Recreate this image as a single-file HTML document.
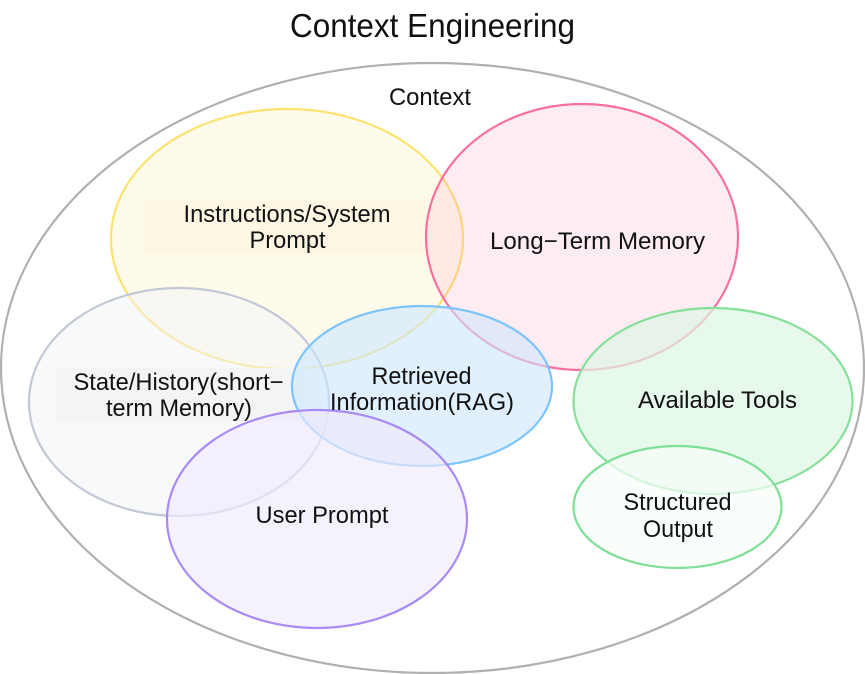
<!DOCTYPE html>
<html>
<head>
<meta charset="utf-8">
<style>
html,body{margin:0;padding:0;background:#fff}
svg{display:block}
text{font-family:"Liberation Sans",sans-serif;font-size:24px;fill:#111;text-anchor:middle}
ellipse{stroke-width:2.2}
</style>
</head>
<body>
<svg width="865" height="674" viewBox="0 0 865 674" xmlns="http://www.w3.org/2000/svg">
<rect width="865" height="674" fill="#fff"/>
<ellipse cx="432.500" cy="368" rx="431.500" ry="305" fill="#fff" stroke="#b0b0b0"/>
<ellipse cx="287" cy="239" rx="176" ry="130" fill="#fffbeb" stroke="#fde26e"/>
<rect x="144" y="201" width="282" height="52" fill="#fdf6e3"/>
<ellipse cx="582" cy="237" rx="156" ry="133" fill="#f9a8c8" fill-opacity=".22" stroke="#fb6f9f"/>
<ellipse cx="179" cy="402" rx="150" ry="114" fill="#f1f3f7" fill-opacity=".5" stroke="#c3c8d6"/>
<rect x="56" y="368" width="250" height="53" fill="#f3f4f6"/>
<ellipse cx="422" cy="386" rx="130" ry="80" fill="#cbe6ff" fill-opacity=".6" stroke="#7cc4fa"/>
<ellipse cx="317" cy="519" rx="150" ry="109" fill="#f0eafc" fill-opacity=".65" stroke="#a98bf5"/>
<ellipse cx="713" cy="401" rx="139.500" ry="93" fill="#ddf6e2" fill-opacity=".7" stroke="#86e09b"/>
<ellipse cx="677.500" cy="507" rx="104" ry="61" fill="#f7fdf8" fill-opacity=".7" stroke="#7fdf97"/>
<text x="432.500" y="37" style="font-size:33px" textLength="285" lengthAdjust="spacingAndGlyphs">Context Engineering</text>
<text x="430" y="105" textLength="82" lengthAdjust="spacingAndGlyphs">Context</text>
<text x="287" y="222" textLength="207" lengthAdjust="spacingAndGlyphs">Instructions/System</text>
<text x="287.500" y="248" textLength="76" lengthAdjust="spacingAndGlyphs">Prompt</text>
<text x="597.500" y="249" textLength="215" lengthAdjust="spacingAndGlyphs">Long−Term Memory</text>
<text x="178.500" y="390" textLength="210" lengthAdjust="spacingAndGlyphs">State/History(short−</text>
<text x="179" y="416" textLength="146" lengthAdjust="spacingAndGlyphs">term Memory)</text>
<text x="421.500" y="384" textLength="100" lengthAdjust="spacingAndGlyphs">Retrieved</text>
<text x="422" y="410" textLength="184" lengthAdjust="spacingAndGlyphs">Information(RAG)</text>
<text x="322" y="523" textLength="133" lengthAdjust="spacingAndGlyphs">User Prompt</text>
<text x="717.500" y="408" textLength="159" lengthAdjust="spacingAndGlyphs">Available Tools</text>
<text x="677.500" y="510" textLength="108" lengthAdjust="spacingAndGlyphs">Structured</text>
<text x="678" y="537" textLength="70" lengthAdjust="spacingAndGlyphs">Output</text>
</svg>
</body>
</html>
